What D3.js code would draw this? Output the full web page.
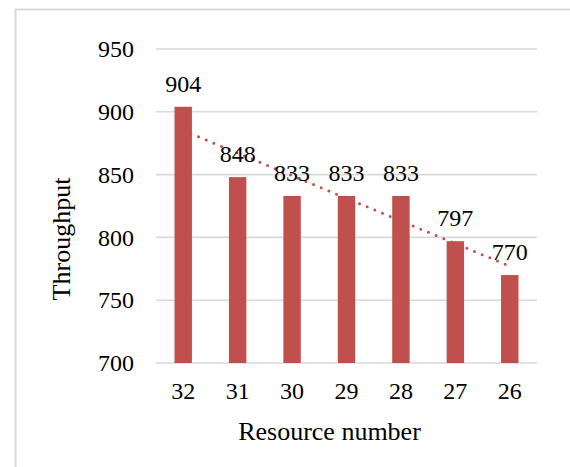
<!DOCTYPE html>
<html>
<head>
<meta charset="utf-8">
<script src="https://cdn.jsdelivr.net/npm/d3@7/dist/d3.min.js"></script>
<style>
  html, body { margin: 0; padding: 0; background: #fff; }
  svg { display: block; }
  text { font-family: "Liberation Serif", "Times New Roman", serif; fill: #000; }
</style>
</head>
<body>
<script>
// Throughput by number of resources
const categories = ["32", "31", "30", "29", "28", "27", "26"];
const throughput = [904, 848, 833, 833, 833, 797, 770];
const yTicks = [700, 750, 800, 850, 900, 950];

const W = 570, H = 467;
const plot = { left: 156, right: 537, top: 49, bottom: 363 };
const barColor = "#C0504D";
const gridColor = "#D9D9D9";

const svg = d3.select("body").append("svg")
  .attr("width", W).attr("height", H);

// chart frame
svg.append("path")
  .attr("d", `M15.5,${H} L15.5,9.5 L${W},9.5`)
  .attr("fill", "none")
  .attr("stroke", gridColor)
  .attr("stroke-width", 2);

const x = d3.scaleBand()
  .domain(categories)
  .range([plot.left, plot.right])
  .paddingInner(0.68)
  .paddingOuter(0.34);

const y = d3.scaleLinear()
  .domain([700, 950])
  .range([plot.bottom, plot.top]);

// horizontal gridlines
svg.append("g")
  .selectAll("line")
  .data(yTicks)
  .join("line")
  .attr("x1", plot.left).attr("x2", plot.right)
  .attr("y1", d => y(d)).attr("y2", d => y(d))
  .attr("stroke", gridColor)
  .attr("stroke-width", 1.6);

// y-axis tick labels
const yAxis = svg.append("g")
  .attr("transform", `translate(${plot.left - 22},0)`)
  .call(d3.axisLeft(y).tickValues(yTicks).tickSize(0).tickPadding(0));
yAxis.select(".domain").remove();
yAxis.selectAll("text")
  .style("font-family", '"Liberation Serif", "Times New Roman", serif')
  .attr("font-size", 24)
  .attr("fill", "#000");

// linear trendline (least squares over category index), drawn under the bars
const n = throughput.length;
const xs = d3.range(1, n + 1);
const mx = d3.mean(xs), my = d3.mean(throughput);
const slope = d3.sum(xs, (xi, i) => (xi - mx) * (throughput[i] - my)) /
              d3.sum(xs, xi => (xi - mx) * (xi - mx));
const trendAt = xi => my + slope * (xi - mx);
const centerX = c => x(c) + x.bandwidth() / 2;

svg.append("path")
  .datum(categories.map((c, i) => [centerX(c), y(trendAt(i + 1))]))
  .attr("d", d3.line())
  .attr("fill", "none")
  .attr("stroke", barColor)
  .attr("stroke-width", 3)
  .attr("stroke-linecap", "round")
  .attr("stroke-dasharray", "0 8.3");

// bars
svg.append("g")
  .selectAll("rect")
  .data(throughput)
  .join("rect")
  .attr("x", (d, i) => x(categories[i]))
  .attr("width", x.bandwidth())
  .attr("y", d => y(d))
  .attr("height", d => y(700) - y(d))
  .attr("fill", barColor);

// value labels
svg.append("g")
  .selectAll("text")
  .data(throughput)
  .join("text")
  .attr("x", (d, i) => centerX(categories[i]))
  .attr("y", d => y(d) - 15)
  .attr("text-anchor", "middle")
  .attr("font-size", 24)
  .text(d => d);

// x-axis category labels
const xAxis = svg.append("g")
  .attr("transform", `translate(0,${plot.bottom + 19})`)
  .call(d3.axisBottom(x).tickSize(0).tickPadding(0));
xAxis.select(".domain").remove();
xAxis.selectAll("text")
  .style("font-family", '"Liberation Serif", "Times New Roman", serif')
  .attr("font-size", 24)
  .attr("fill", "#000");

// axis titles
svg.append("text")
  .attr("x", 329.5).attr("y", 440)
  .attr("text-anchor", "middle")
  .attr("font-size", 26)
  .text("Resource number");

svg.append("text")
  .attr("transform", "translate(70,239) rotate(-90)")
  .attr("text-anchor", "middle")
  .attr("font-size", 26)
  .text("Throughput");
</script>
</body>
</html>
